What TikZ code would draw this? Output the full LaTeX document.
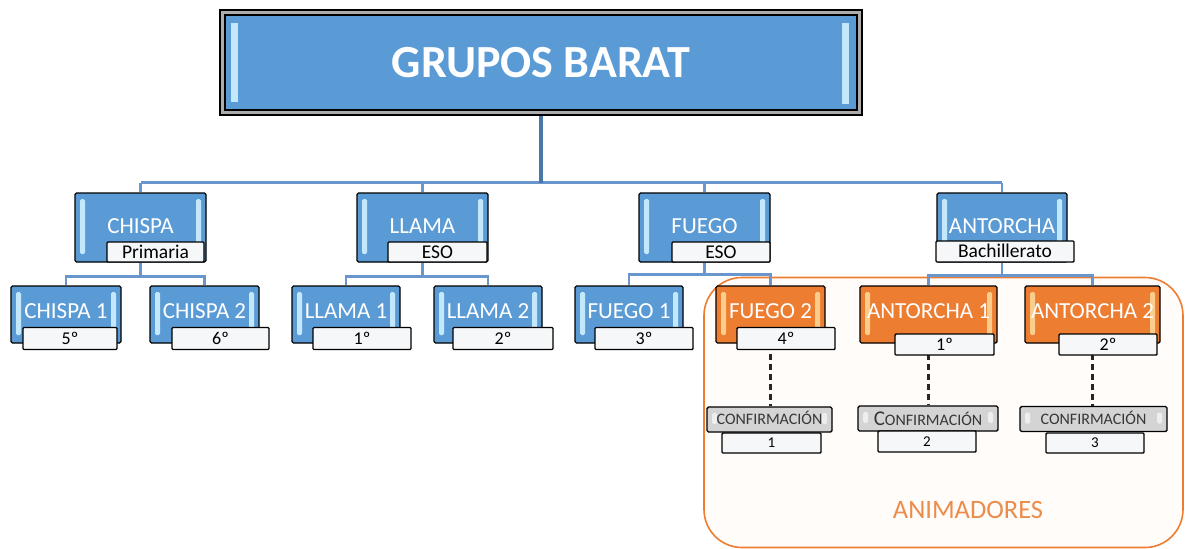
\documentclass[tikz,border=0pt]{standalone}
\usepackage{fontspec}
\setmainfont{Carlito}
\usetikzlibrary{backgrounds}
\definecolor{blueF}{RGB}{91,155,213}
\definecolor{orangeF}{RGB}{237,125,49}
\definecolor{stripB}{RGB}{195,232,252}
\definecolor{stripO}{RGB}{250,205,140}
\definecolor{lineB}{RGB}{105,150,205}
\definecolor{lineD}{RGB}{70,120,170}
\definecolor{tagF}{RGB}{246,247,249}
\definecolor{confF}{RGB}{212,212,212}
\definecolor{confT}{RGB}{55,55,55}
\definecolor{animF}{RGB}{255,252,249}
\definecolor{animT}{RGB}{236,140,75}
\newcommand\fsz[1]{\fontsize{#1}{#1}\selectfont}
\pgfdeclarelayer{back}
\pgfdeclarelayer{conn}
\pgfsetlayers{back,conn,main}
\tikzset{
  bevel/.style={path picture={
    \fill[#1] ([xshift=5pt,yshift=-6pt]path picture bounding box.north west) rectangle ([xshift=10pt,yshift=8pt]path picture bounding box.south west);
    \fill[#1] ([xshift=-10pt,yshift=-6pt]path picture bounding box.north east) rectangle ([xshift=-5pt,yshift=8pt]path picture bounding box.south east);}},
  box/.style={draw=black, line width=1.4pt, rounded corners=1.5pt, inner sep=0pt, text=white},
  bluebox/.style={box, fill=blueF, bevel=stripB},
  orangebox/.style={box, fill=orangeF, bevel=stripO},
  lvlone/.style={minimum width=131pt, minimum height=69pt, font=\fsz{23}, text height=15pt, text depth=3pt},
  lvltwo/.style={minimum height=57pt, font=\fsz{23}, text height=15pt, text depth=8pt},
  tag/.style={draw=black, line width=1.4pt, rounded corners=1pt, fill=tagF, inner sep=0pt, text=black},
  tagone/.style={tag, minimum height=20pt, font=\fsz{19.5}, text height=12.6pt, text depth=0pt},
  tagtwo/.style={tag, minimum height=22pt, font=\fsz{18}, text height=11.6pt, text depth=0pt},
  conf/.style={draw=black, line width=1.4pt, rounded corners=1.5pt, fill=confF, inner sep=0pt, text=confT, minimum height=25pt, font=\fsz{16}, text height=10.3pt, text depth=0pt, bevel=white!60!confF},
  num/.style={tag, minimum height=20pt, font=\fsz{15}, text height=9.7pt, text depth=0pt},
  conn/.style={draw=lineB, line width=2.6pt},
  mainconn/.style={draw=lineD, line width=3.5pt},
  dashc/.style={draw=black!85, line width=2.2pt, dash pattern=on 6pt off 4pt},
}
\begin{document}
\begin{tikzpicture}[x=1pt,y=-1pt]
\useasboundingbox (0,0) rectangle (1187,549);
% group box
\begin{pgfonlayer}{back}
\node[draw=orangeF, line width=1.6pt, fill=animF, rounded corners=38pt, minimum width=479pt, minimum height=270pt, inner sep=0pt] (anim) at (943.5,412.5) {};
\end{pgfonlayer}
\node[text=animT, font=\fsz{26.5}, inner sep=0pt] (animlbl) at (968,510) {ANIMADORES};
% main box
\node[draw=black, line width=1.4pt, fill=gray!65, minimum width=642pt, minimum height=105pt, inner sep=0pt] (top) at (541,62.5) {};
\node[draw=black, line width=1.2pt, fill=blueF, minimum width=632pt, minimum height=95pt, inner sep=0pt, text=white, font=\fsz{46}\bfseries, text height=29.6pt, text depth=0pt,
  path picture={
    \fill[stripB] ([xshift=6pt,yshift=-8pt]path picture bounding box.north west) rectangle ([xshift=13pt,yshift=8pt]path picture bounding box.south west);
    \fill[stripB] ([xshift=-15pt,yshift=-8pt]path picture bounding box.north east) rectangle ([xshift=-8pt,yshift=6pt]path picture bounding box.south east);}] (topin) at (541,62.5) {GRUPOS BARAT};
% level 1
\node[bluebox, lvlone] (chispa) at (140.5,227.5) {CHISPA};
\node[bluebox, lvlone] (llama) at (422.5,227.5) {LLAMA};
\node[bluebox, lvlone] (fuego) at (704.5,227.5) {FUEGO};
\node[bluebox, lvlone, minimum width=130pt] (antorcha) at (1002,227.5) {ANTORCHA};
\node[tagone, minimum width=97pt] (tprim) at (155.5,252) {Primaria};
\node[tagone, minimum width=99pt] (teso1) at (437.5,252) {ESO};
\node[tagone, minimum width=98pt] (teso2) at (721,252) {ESO};
\node[tagone, minimum width=138pt, minimum height=21pt] (tbach) at (1005,251.5) {Bachillerato};
% level 2
\node[bluebox, lvltwo, minimum width=110pt] (chispa1) at (66,314.5) {CHISPA 1};
\node[bluebox, lvltwo, minimum width=109pt] (chispa2) at (204.5,314.5) {CHISPA 2};
\node[bluebox, lvltwo, minimum width=108pt] (llama1) at (346,314.5) {LLAMA 1};
\node[bluebox, lvltwo, minimum width=108pt] (llama2) at (488,314.5) {LLAMA 2};
\node[bluebox, lvltwo, minimum width=108pt] (fuego1) at (629,314.5) {FUEGO 1};
\node[orangebox, lvltwo, minimum width=109pt] (fuego2) at (770.5,314.5) {FUEGO 2};
\node[orangebox, lvltwo, minimum width=137pt] (antorcha1) at (928.5,314.5) {ANTORCHA 1};
\node[orangebox, lvltwo, minimum width=135pt] (antorcha2) at (1092.5,314.5) {ANTORCHA 2};
\node[tagtwo, minimum width=94pt] (t5) at (70,338.5) {5º};
\node[tagtwo, minimum width=97pt] (t6) at (220.5,338.5) {6º};
\node[tagtwo, minimum width=98pt] (t1) at (362,338.5) {1º};
\node[tagtwo, minimum width=100pt] (t2) at (503,338.5) {2º};
\node[tagtwo, minimum width=98pt] (t3) at (644,338.5) {3º};
\node[tagtwo, minimum width=98pt] (t4) at (786,338.5) {4º};
\node[tagtwo, minimum width=99pt, minimum height=21pt] (tb1) at (944.5,344.5) {1º};
\node[tagtwo, minimum width=98pt, minimum height=21pt] (tb2) at (1108,344.5) {2º};
% confirmations
\node[conf, minimum width=125pt] (conf1) at (769.5,419.5) {CONFIRMACIÓN};
\node[conf, minimum width=140pt, text height=13.5pt] (conf2) at (928,418.5) {{\fsz{21}C}ONFIRMACIÓN};
\node[conf, minimum width=147pt] (conf3) at (1093.5,419) {CONFIRMACIÓN};
\node[num, minimum width=99pt] (n1) at (771.5,443) {1};
\node[num, minimum width=98pt, minimum height=21pt] (n2) at (927,441.5) {2};
\node[num, minimum width=98pt] (n3) at (1095,443) {3};
% connectors
\begin{pgfonlayer}{conn}
\draw[conn] (top.south) ++(0,67) coordinate (hub);
\draw[conn] (hub -| chispa.north) -- (hub -| antorcha.north);
\foreach \n in {chispa,llama,fuego,antorcha}{
  \draw[conn] (hub -| \n.north) -- (\n.north);
}
\draw[mainconn] (top.south) -- (hub);
\draw[conn] (chispa.south) -- ++(0,14) -| (chispa1.north);
\draw[conn] (chispa.south) -- ++(0,14) -| (chispa2.north);
\draw[conn] (llama.south) -- ++(0,14) -| (llama1.north);
\draw[conn] (llama.south) -- ++(0,14) -| (llama2.north);
\draw[conn] (fuego.south) -- ++(0,12) -| (fuego1.north);
\draw[conn] (fuego.south) -- ++(0,12) -| (fuego2.north);
\draw[conn] (antorcha.south) -- ++(0,13) -| (antorcha1.north);
\draw[conn] (antorcha.south) -- ++(0,13) -| (antorcha2.north);
\draw[dashc] (fuego2.south) -- (fuego2.south |- conf1.north);
\draw[dashc] (antorcha1.south) -- (antorcha1.south |- conf2.north);
\draw[dashc] (antorcha2.south) -- (antorcha2.south |- conf3.north);
\end{pgfonlayer}
\end{tikzpicture}
\end{document}
